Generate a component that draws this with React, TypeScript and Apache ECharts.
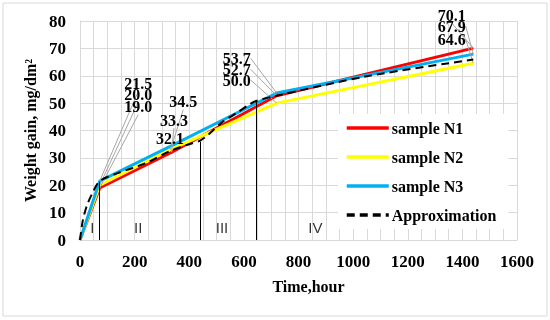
import React, { useEffect, useRef } from "react";
import * as echarts from "echarts";

// ---- data ----
const times = [0, 72, 336, 720, 1440];
const sampleN1 = [0, 19.0, 32.1, 52.7, 70.1];
const sampleN2 = [0, 20.0, 33.3, 50.0, 64.6];
const sampleN3 = [0, 21.5, 34.5, 53.7, 67.9];
const approxTimes = [0, 10, 25, 45, 72, 140, 240, 330, 400, 440, 470, 520, 575, 620, 645, 720, 1050, 1440];
const approxValues = [0, 7, 12.5, 17, 21.5, 24.5, 28, 32.5, 35, 36.3, 38.5, 43, 46.5, 49.5, 50.8, 52.7, 59.8, 65.9];
const boundaryTimes = [72, 440, 645];
const boundaryTops = [21.3, 35.9, 50.8];
const regionNames = ["I", "II", "III", "IV"];
const regionTimes = [45, 213, 520, 862];
const regionLevel = 4.5;
const seriesNames = ["sample N1", "sample N2", "sample N3", "Approximation"];

// ---- layout of value labels (pixel offsets from point) ----
const labelOffsets: number[][][] = [
  [[0, 0], [38.6, -81.3], [-1.8, -13.8], [-40, -26.4], [-21.6, -33.1]],
  [[0, 0], [38.6, -91], [2.2, -28.8], [-40, -23.1], [-21.6, -23.9]],
  [[0, 0], [38.6, -97.8], [11.5, -43.9], [-40, -34.7], [-21.6, -28.1]],
];

const serif = "'Liberation Serif', 'Times New Roman', serif";

function pts(vals: number[]) {
  return times.map((t, i) =>
    i === 0 ? { value: [t, vals[i]], label: { show: false }, labelLine: { show: false } } : { value: [t, vals[i]] }
  );
}

export default function App() {
  const ref = useRef<HTMLDivElement>(null);
  useEffect(() => {
    document.body.style.margin = "0";
    const chart = echarts.init(ref.current!, null, { renderer: "svg" });
    const valueLabel = {
      show: true,
      position: "inside",
      formatter: (p: any) => Number(p.value[1]).toFixed(1),
      fontFamily: serif,
      fontWeight: "bold",
      fontSize: 16,
      color: "#000",
    };
    const labelLine = { show: true, lineStyle: { color: "#a6a6a6", width: 1 } };
    const lineSeries = (name: string, vals: number[], color: string) => ({
      name,
      type: "line",
      data: pts(vals),
      symbol: "circle",
      symbolSize: 0.01,
      itemStyle: { color },
      lineStyle: { color, width: 3 },
      label: valueLabel,
      labelLine,
      z: 3,
    });
    const axisText = { fontFamily: serif, fontWeight: "bold", fontSize: 17, color: "#000" };
    chart.setOption({
      animation: false,
      grid: { left: 80, right: 33, top: 21, bottom: 80 },
      graphic: [
        {
          type: "rect",
          shape: { x: 3, y: 3, width: 544, height: 313 },
          style: { fill: "none", stroke: "#d9d9d9", lineWidth: 1 },
          silent: true,
        },
      ],
      legend: {
        orient: "vertical",
        left: 338,
        top: 114,
        width: 179,
        data: seriesNames,
        backgroundColor: "#fff",
        padding: [6, 12, 6, 7],
        itemWidth: 42,
        itemHeight: 14,
        itemGap: 13,
        itemStyle: { opacity: 0 },
        lineStyle: { width: 3.5 },
        textStyle: { fontFamily: serif, fontWeight: "bold", fontSize: 16, color: "#000", padding: [0, 0, 0, -2] },
      },
      xAxis: {
        type: "value",
        min: 0,
        max: 1600,
        interval: 200,
        name: "Time,hour",
        nameLocation: "middle",
        nameGap: 38,
        nameTextStyle: { fontFamily: serif, fontWeight: "bold", fontSize: 16, color: "#000", padding: [0, 0, 0, 20] },
        axisLine: { show: true, lineStyle: { color: "#d9d9d9" } },
        axisTick: { show: false },
        minorTick: { show: false, splitNumber: 4 },
        axisLabel: { ...axisText, margin: 13, formatter: (v: number) => String(v) },
        splitLine: { show: true, lineStyle: { color: "#d9d9d9" } },
        minorSplitLine: { show: true, lineStyle: { color: "#d9d9d9" } },
      },
      yAxis: {
        type: "value",
        min: 0,
        max: 80,
        interval: 10,
        name: "Weight gain, mg/dm²",
        nameLocation: "middle",
        nameGap: 34,
        nameTextStyle: { fontFamily: serif, fontWeight: "bold", fontSize: 16, color: "#000" },
        axisLine: { show: true, lineStyle: { color: "#d9d9d9" } },
        axisTick: { show: false },
        axisLabel: { ...axisText, margin: 14, formatter: (v: number) => String(v) },
        splitLine: { show: true, lineStyle: { color: "#d9d9d9" } },
      },
      labelLayout: (p: any) => {
        const row = labelOffsets[p.seriesIndex];
        if (!row) return {};
        const off = row[p.dataIndex];
        if (!off) return {};
        return { dx: off[0], dy: off[1] };
      },
      series: [
        lineSeries(seriesNames[0], sampleN1, "#ff0000"),
        lineSeries(seriesNames[1], sampleN2, "#ffff00"),
        lineSeries(seriesNames[2], sampleN3, "#00b0f0"),
        {
          name: seriesNames[3],
          type: "line",
          data: approxTimes.map((t, i) => [t, approxValues[i]]),
          showSymbol: false,
          symbol: "none",
          smooth: 0.3,
          itemStyle: { color: "#000" },
          lineStyle: { color: "#000", width: 2, type: [8, 5] },
          z: 4,
          markLine: {
            silent: true,
            symbol: "none",
            label: { show: false },
            lineStyle: { color: "#000", width: 1, type: "solid" },
            data: boundaryTimes.map((t, i) => [{ coord: [t, 0] }, { coord: [t, boundaryTops[i]] }]),
          },
        },
        {
          type: "scatter",
          data: regionNames.map((n, i) => ({ name: n, value: [regionTimes[i], regionLevel] })),
          symbolSize: 0,
          silent: true,
          label: {
            show: true,
            position: "inside",
            formatter: "{b}",
            fontFamily: "'Liberation Sans', Arial, sans-serif",
            fontSize: 15,
            color: "#000",
          },
        },
      ],
    });
    return () => chart.dispose();
  }, []);
  return <div ref={ref} style={{ position: "fixed", left: 0, top: 0, width: 550, height: 320 }} />;
}
